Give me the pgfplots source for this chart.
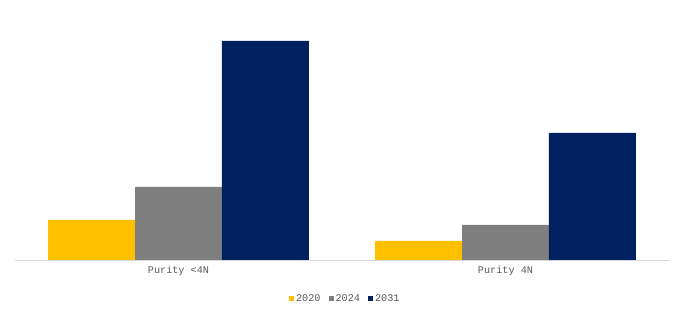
\documentclass[border=0pt]{standalone}
\usepackage{pgfplots}
\pgfplotsset{compat=1.18}
\usepackage{fontspec}
\setmainfont{Liberation Mono}
\definecolor{cyellow}{HTML}{FFC000}
\definecolor{cgray}{HTML}{7F7F7F}
\definecolor{cnavy}{HTML}{002060}
\definecolor{ctext}{HTML}{595959}
\definecolor{caxis}{HTML}{D9D9D9}
\begin{document}
\begin{tikzpicture}
\path[use as bounding box] (0,0) rectangle (683pt,318pt);
\begin{axis}[
  at={(15pt,58pt)}, anchor=south west,
  x=327pt, y=1pt,
  xmin=-0.5, xmax=1.5, ymin=0, ymax=250,
  ybar=0pt, bar width=0.266,
  axis y line=none,
  axis x line*=bottom,
  x axis line style={caxis, thick, -},
  xtick=data, xticklabels={Purity <4N, Purity 4N},
  major tick length=0pt,
  xticklabel style={font=\fontsize{10.2}{12}\selectfont, text=ctext, yshift=-2.5pt},
  legend style={at={(0.505,-0.156)}, anchor=center, legend columns=-1, draw=none,
    font=\fontsize{10.2}{12}\selectfont, text=ctext,
    /tikz/every even column/.append style={column sep=6pt}},
  legend image code/.code={\fill[#1] (0pt,-2.5pt) rectangle (5pt,2.5pt);},
]
\addplot[fill=cyellow, draw=none] coordinates {(0,40) (1,19)};
\addplot[fill=cgray, draw=none] coordinates {(0,73) (1,35)};
\addplot[fill=cnavy, draw=none] coordinates {(0,219) (1,127)};
\legend{2020,2024,2031}
\end{axis}
\end{tikzpicture}
\end{document}
